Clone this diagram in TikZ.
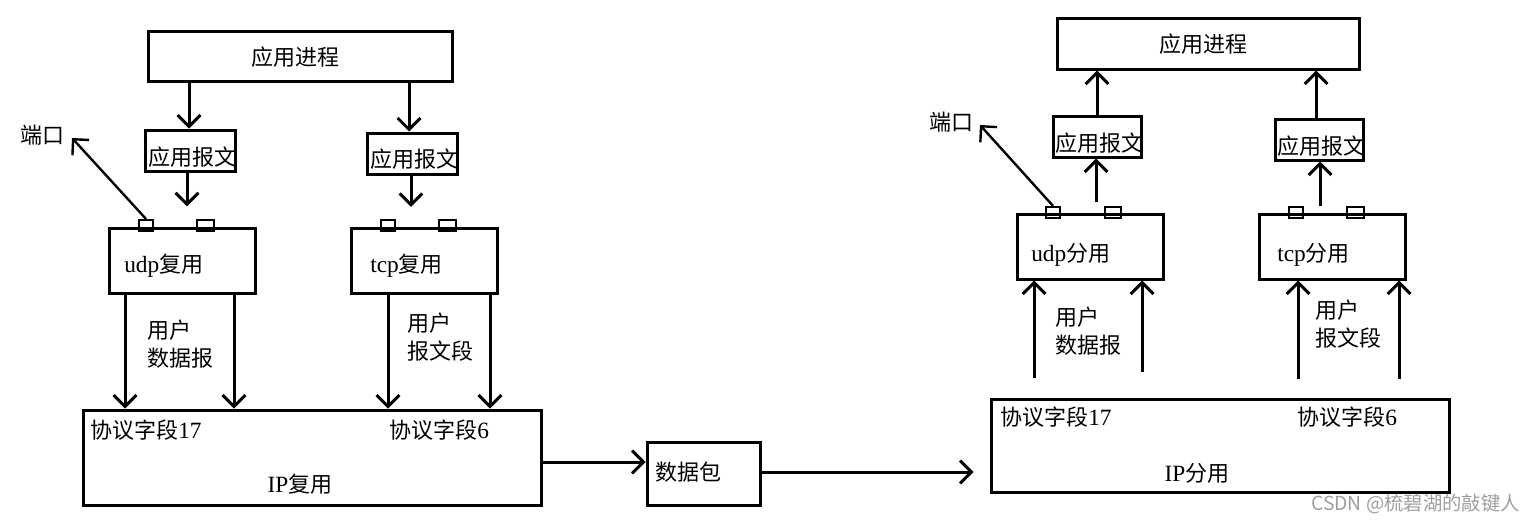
\documentclass[tikz,border=0pt]{standalone}
\usepackage{fontspec}
\setmainfont{Liberation Serif}
\newfontfamily\cjk{Noto Sans CJK SC}
\usetikzlibrary{arrows.meta,fit,calc}
\begin{document}
\begin{tikzpicture}[x=0.75pt,y=-0.75pt,
  box/.style={draw,line width=2.25pt,inner sep=0pt},
  sq/.style={draw,line width=1.6pt,inner sep=0pt},
  lbl/.style={font=\fontsize{16.5}{21}\selectfont\cjk,inner sep=0pt,text=black,align=left},
  lat/.style={font=\fontsize{17.5}{21}\selectfont\rmfamily},
  arr/.style={line width=2.25pt,-{Straight Barb[length=8.5pt,width=17pt]}},
  wm/.style={font=\fontsize{14.5}{17}\selectfont\cjk,text=black!38,inner sep=0pt}]
\useasboundingbox (0,0) rectangle (1534,525);
% ---------------- left side ----------------
\node[box,fit={(148,31) (452,81)}] (apL) {};
\node[box,fit={(145,130) (235,171)}] (m1) {};
\node[box,fit={(367,133) (457,174)}] (m2) {};
\node[box,fit={(109,228) (255,293)}] (udpL) {};
\node[box,fit={(351,228) (497,293)}] (tcpL) {};
\node[sq,fit={(139,220) (153,231)}] (us1) {};
\node[sq,fit={(197,220) (214,231)}] (us2) {};
\node[sq,fit={(381,220) (395,231)}] (ts1) {};
\node[sq,fit={(439,220) (456,231)}] (ts2) {};
\node[box,fit={(83,410) (541,505)}] (ipL) {};
\node[box,fit={(647,442) (760,505)}] (pkt) {};
% texts
\node[lbl] (tApL) at (295,57) {应用进程};
\node[lbl,anchor=west] (tm1) at (148,157) {应用报文};
\node[lbl,anchor=west] (tm2) at (370,159) {应用报文};
\node[lbl,anchor=west] (tudpL) at (124,266) {{\fontsize{17.5}{21}\selectfont\rmfamily udp}复用};
\node[lbl,anchor=west] (ttcpL) at (370,266) {{\fontsize{17.5}{21}\selectfont\rmfamily tcp}复用};
\node[lbl] (portL) at (42,135) {端口};
\node[lbl,anchor=west] (tdgL) at (147,344) {用户\\数据报};
\node[lbl,anchor=west] (tsgL) at (407,337) {用户\\报文段};
\node[lbl,anchor=west] (tp17L) at (90,430) {协议字段{\fontsize{17.5}{21}\selectfont\rmfamily 17}};
\node[lbl,anchor=west] (tp6L) at (389,430) {协议字段{\fontsize{17.5}{21}\selectfont\rmfamily 6}};
\node[lbl] (tipL) at (300,484) {{\fontsize{17.5}{21}\selectfont\rmfamily IP}复用};
\node[lbl,anchor=west] (tpkt) at (655,472) {数据包};
% helper coordinates
\coordinate (x189) at (189,0);
\coordinate (x409) at (409,0);
\coordinate (x187) at (187,0);
\coordinate (x411) at (411,0);
\coordinate (x125) at (125,0);
\coordinate (x234) at (234,0);
\coordinate (x388) at (388,0);
\coordinate (x490) at (490,0);
\coordinate (y462) at (0,462);
\coordinate (y472) at (0,472);
\coordinate (portTipL) at (72,138);
% arrows
\draw[arr] (x189 |- apL.south) -- (x189 |- m1.north);
\draw[arr] (x409 |- apL.south) -- (x409 |- m2.north);
\draw[arr,shorten >=9.5pt] (x187 |- m1.south) -- (x187 |- us1.north);
\draw[arr,shorten >=9pt] (x411 |- m2.south) -- (x411 |- ts1.north);
\draw[arr,line width=1.8pt] (us1.north) -- (portTipL);
\draw[arr] (x125 |- udpL.south) -- (x125 |- ipL.north);
\draw[arr] (x234 |- udpL.south) -- (x234 |- ipL.north);
\draw[arr] (x388 |- tcpL.south) -- (x388 |- ipL.north);
\draw[arr] (x490 |- tcpL.south) -- (x490 |- ipL.north);
% ---------------- right side ----------------
\node[box,fit={(1057,18) (1359,69)}] (apR) {};
\node[box,fit={(1053,116) (1141,157)}] (m3) {};
\node[box,fit={(1275,119) (1363,160)}] (m4) {};
\node[box,fit={(1017,214) (1163,279)}] (udpR) {};
\node[box,fit={(1259,214) (1405,279)}] (tcpR) {};
\node[sq,fit={(1046,207) (1060,218)}] (us3) {};
\node[sq,fit={(1105,207) (1121,218)}] (us4) {};
\node[sq,fit={(1289,207) (1303,218)}] (ts3) {};
\node[sq,fit={(1347,207) (1364,218)}] (ts4) {};
\node[box,fit={(991,399) (1449,492)}] (ipR) {};
\node[lbl] (tApR) at (1203,44) {应用进程};
\node[lbl,anchor=west] (tm3) at (1055,143) {应用报文};
\node[lbl,anchor=west] (tm4) at (1277,146) {应用报文};
\node[lbl,anchor=west] (tudpR) at (1031,255) {{\fontsize{17.5}{21}\selectfont\rmfamily udp}分用};
\node[lbl,anchor=west] (ttcpR) at (1277,255) {{\fontsize{17.5}{21}\selectfont\rmfamily tcp}分用};
\node[lbl] (portR) at (951,122) {端口};
\node[lbl,anchor=west] (tdgR) at (1055,331) {用户\\数据报};
\node[lbl,anchor=west] (tsgR) at (1315,324) {用户\\报文段};
\node[lbl,anchor=west] (tp17R) at (1000,417) {协议字段{\fontsize{17.5}{21}\selectfont\rmfamily 17}};
\node[lbl,anchor=west] (tp6R) at (1297,417) {协议字段{\fontsize{17.5}{21}\selectfont\rmfamily 6}};
\node[lbl] (tipR) at (1197,473) {{\fontsize{17.5}{21}\selectfont\rmfamily IP}分用};
\node[wm,anchor=east] (wmark) at (1520,504) {CSDN @梳碧湖的敲键人};
\coordinate (x1097) at (1097,0);
\coordinate (x1316) at (1316,0);
\coordinate (x1096) at (1096,0);
\coordinate (x1320) at (1320,0);
\coordinate (x1034) at (1034,0);
\coordinate (x1142) at (1142,0);
\coordinate (x1298) at (1298,0);
\coordinate (x1399) at (1399,0);
\coordinate (portTipR) at (980,125);
\draw[arr] (x1097 |- m3.north) -- (x1097 |- apR.south);
\draw[arr] (x1316 |- m4.north) -- (x1316 |- apR.south);
\draw[arr,shorten <=3pt] (x1096 |- us4.north) -- (x1096 |- m3.south);
\draw[arr] (x1320 |- ts4.north) -- (x1320 |- m4.south);
\draw[arr,line width=1.8pt] (us3.north) -- (portTipR);
\draw[arr,shorten <=15pt] (x1034 |- ipR.north) -- (x1034 |- udpR.south);
\draw[arr,shorten <=19pt] (x1142 |- ipR.north) -- (x1142 |- udpR.south);
\draw[arr,shorten <=14pt] (x1298 |- ipR.north) -- (x1298 |- tcpR.south);
\draw[arr,shorten <=14pt] (x1399 |- ipR.north) -- (x1399 |- tcpR.south);
% ---------------- packet path ----------------
\draw[arr] (ipL.east |- y462) -- (pkt.west |- y462);
\draw[arr,shorten >=12pt] (pkt.east |- y472) -- (ipR.west |- y472);
\end{tikzpicture}
\end{document}
